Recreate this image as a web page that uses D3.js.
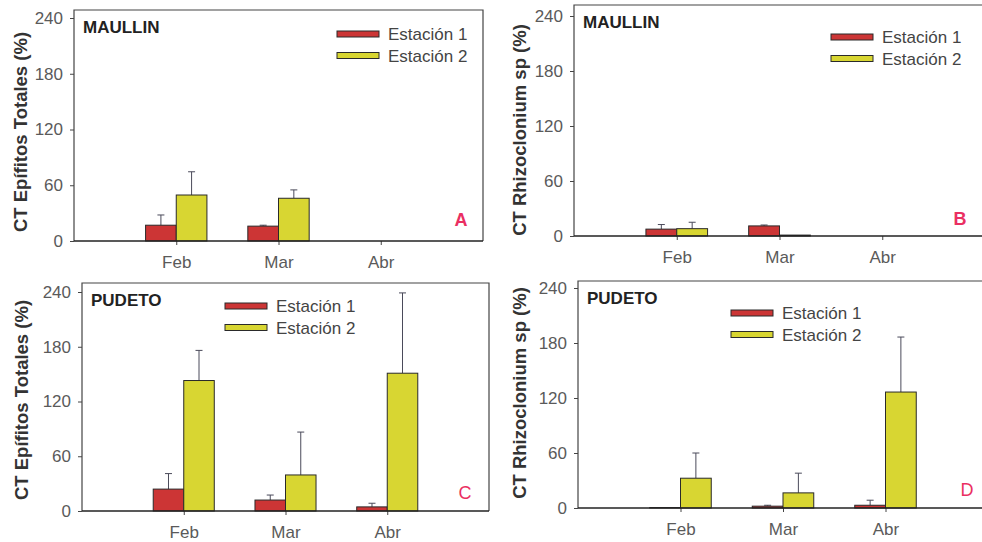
<!DOCTYPE html>
<html>
<head>
<meta charset="utf-8">
<script src="https://cdn.jsdelivr.net/npm/d3@7"></script>
<style>
  html, body { margin: 0; padding: 0; background: #fff; }
  svg { display: block; font-family: "Liberation Sans", Arial, sans-serif; }
  .tick text { fill: #5a5a5a; font-size: 17px; }
  .tick line { stroke: #444; }
</style>
</head>
<body>
<svg id="chart" width="982" height="542"></svg>
<script>
// months on the x axis
const months = ["Feb", "Mar", "Abr"];
const yTicks = [0, 60, 120, 180, 240];
const seriesNames = ["Estación 1", "Estación 2"];

// A - Maullín, epífitos totales
const maullinEpiE1 = [17, 16, 0];
const maullinEpiE1Sd = [11, 1, 0];
const maullinEpiE2 = [49.5, 46, 0];
const maullinEpiE2Sd = [25, 9, 0];

// B - Maullín, Rhizoclonium
const maullinRhiE1 = [7.5, 11, 0];
const maullinRhiE1Sd = [5, 1, 0];
const maullinRhiE2 = [8, 1, 0];
const maullinRhiE2Sd = [7, 0, 0];

// C - Pudeto, epífitos totales
const pudetoEpiE1 = [24, 12, 4.5];
const pudetoEpiE1Sd = [17, 5.5, 4];
const pudetoEpiE2 = [143, 39.5, 151];
const pudetoEpiE2Sd = [33, 47, 88];

// D - Pudeto, Rhizoclonium
const pudetoRhiE1 = [0.5, 2, 3];
const pudetoRhiE1Sd = [0, 1, 5.5];
const pudetoRhiE2 = [32.5, 16.5, 126.5];
const pudetoRhiE2Sd = [27.5, 21.5, 60];

const colors = ["#cc3535", "#d8d632"];
const letterColor = "#ea2f62";

const panels = [
  {
    site: "MAULLIN", letter: "A", yLabel: "CT Epífitos Totales (%)",
    e1: maullinEpiE1, e1Sd: maullinEpiE1Sd, e2: maullinEpiE2, e2Sd: maullinEpiE2Sd,
    left: 74, right: 483, top: 10, y0: 241, y240: 18,
    labelX: 27, labelY: 132, legendX: 337, legendY: 34, letterX: 461, letterY: 226, letterBold: true
  },
  {
    site: "MAULLIN", letter: "B", yLabel: "CT Rhizoclonium sp (%)",
    e1: maullinRhiE1, e1Sd: maullinRhiE1Sd, e2: maullinRhiE2, e2Sd: maullinRhiE2Sd,
    left: 574, right: 985, top: 5, y0: 236, y240: 16,
    labelX: 526, labelY: 130, legendX: 831, legendY: 37, letterX: 960, letterY: 225, letterBold: true
  },
  {
    site: "PUDETO", letter: "C", yLabel: "CT Epífitos Totales (%)",
    e1: pudetoEpiE1, e1Sd: pudetoEpiE1Sd, e2: pudetoEpiE2, e2Sd: pudetoEpiE2Sd,
    left: 82, right: 489, top: 283, y0: 511, y240: 292,
    labelX: 28, labelY: 400, legendX: 225, legendY: 306, letterX: 465, letterY: 499, letterBold: false
  },
  {
    site: "PUDETO", letter: "D", yLabel: "CT Rhizoclonium sp (%)",
    e1: pudetoRhiE1, e1Sd: pudetoRhiE1Sd, e2: pudetoRhiE2, e2Sd: pudetoRhiE2Sd,
    left: 578, right: 988, top: 281, y0: 508, y240: 288,
    labelX: 526, labelY: 393, legendX: 731, legendY: 313, letterX: 967, letterY: 496, letterBold: false
  }
];

const svg = d3.select("#chart");
const barW = 0.3;

panels.forEach(p => {
  const g = svg.append("g");

  const x = d3.scaleLinear().domain([0, 4]).range([p.left, p.right]);
  const y = d3.scaleLinear().domain([0, 240]).range([p.y0, p.y240]);

  // bars
  const series = [
    { vals: p.e1, sd: p.e1Sd, off: -barW, color: colors[0] },
    { vals: p.e2, sd: p.e2Sd, off: 0, color: colors[1] }
  ];

  series.forEach(s => {
    const rows = months.map((m, i) => ({ i: i + 1, v: s.vals[i], sd: s.sd[i] }));

    // error bars (upper only)
    const eb = g.append("g").attr("stroke", "#4a4a5a").attr("stroke-width", 1);
    rows.filter(d => d.sd > 0).forEach(d => {
      const cx = x(d.i + s.off + barW / 2);
      eb.append("line")
        .attr("x1", cx).attr("x2", cx)
        .attr("y1", y(d.v)).attr("y2", y(d.v + d.sd));
      eb.append("line")
        .attr("x1", cx - 3.5).attr("x2", cx + 3.5)
        .attr("y1", y(d.v + d.sd)).attr("y2", y(d.v + d.sd));
    });

    g.append("g")
      .selectAll("rect")
      .data(rows.filter(d => d.v > 0))
      .join("rect")
      .attr("x", d => x(d.i + s.off))
      .attr("width", d => x(d.i + s.off + barW) - x(d.i + s.off))
      .attr("y", d => y(d.v))
      .attr("height", d => y(0) - y(d.v))
      .attr("fill", s.color)
      .attr("stroke", "#2a2a2a")
      .attr("stroke-width", 1);
  });

  // y axis
  const yAxis = g.append("g")
    .attr("transform", `translate(${p.left},0)`)
    .call(d3.axisLeft(y).tickValues(yTicks).tickSize(4).tickPadding(7));
  yAxis.select(".domain").remove();

  // x axis
  const xAxis = g.append("g")
    .attr("transform", `translate(0,${p.y0})`)
    .call(
      d3.axisBottom(x)
        .tickValues([1, 2, 3])
        .tickFormat(d => months[d - 1])
        .tickSize(4)
        .tickPadding(11)
    );
  xAxis.select(".domain").remove();

  // frame: left, top, right + baseline
  g.append("path")
    .attr("d", `M${p.left},${p.y0} V${p.top} H${p.right} V${p.y0}`)
    .attr("fill", "none")
    .attr("stroke", "#444")
    .attr("stroke-width", 1.2);
  g.append("line")
    .attr("x1", p.left).attr("x2", p.right)
    .attr("y1", p.y0).attr("y2", p.y0)
    .attr("stroke", "#222")
    .attr("stroke-width", 1.5);

  // y label
  g.append("text")
    .attr("transform", `translate(${p.labelX},${p.labelY}) rotate(-90)`)
    .attr("text-anchor", "middle")
    .attr("font-size", 18.5)
    .attr("font-weight", "bold")
    .attr("fill", "#333")
    .text(p.yLabel);

  // site name
  g.append("text")
    .attr("x", p.left + 9)
    .attr("y", p.top + 23)
    .attr("font-size", 17)
    .attr("font-weight", "bold")
    .attr("fill", "#222")
    .text(p.site);

  // legend
  const lg = g.append("g").attr("transform", `translate(${p.legendX},${p.legendY})`);
  seriesNames.forEach((name, i) => {
    lg.append("rect")
      .attr("x", 0)
      .attr("y", i * 21.5 - 3)
      .attr("width", 42)
      .attr("height", 6)
      .attr("fill", colors[i])
      .attr("stroke", "#2a2a2a")
      .attr("stroke-width", 1);
    lg.append("text")
      .attr("x", 51)
      .attr("y", i * 21.5 + 6)
      .attr("font-size", 17)
      .attr("fill", "#444")
      .text(name);
  });

  // panel letter
  g.append("text")
    .attr("x", p.letterX)
    .attr("y", p.letterY)
    .attr("text-anchor", "middle")
    .attr("font-size", 18)
    .attr("font-weight", p.letterBold ? "bold" : "normal")
    .attr("fill", letterColor)
    .text(p.letter);
});
</script>
</body>
</html>
